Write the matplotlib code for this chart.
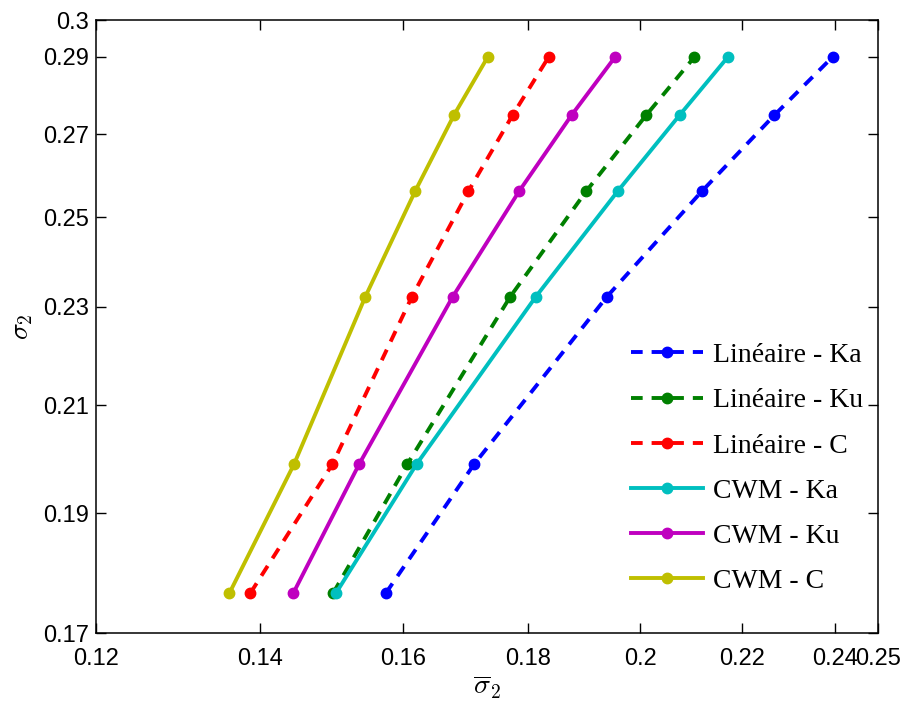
import matplotlib
matplotlib.use("Agg")
import matplotlib.pyplot as plt
from matplotlib.ticker import FixedLocator, FixedFormatter, NullLocator

plt.rcParams['mathtext.fontset'] = 'cm'

# y values shared by all series (log-scaled axis)
sigma2 = [0.1764, 0.1988, 0.2322, 0.2561, 0.2748, 0.2900]

lin_ka = [0.1575, 0.1711, 0.1938, 0.2119, 0.2268, 0.2395]
lin_ku = [0.1499, 0.1607, 0.1770, 0.1901, 0.2011, 0.2104]
lin_c  = [0.1387, 0.1498, 0.1614, 0.1702, 0.1774, 0.1835]
cwm_ka = [0.1503, 0.1621, 0.1813, 0.1958, 0.2075, 0.2171]
cwm_ku = [0.1444, 0.1536, 0.1677, 0.1785, 0.1875, 0.1953]
cwm_c  = [0.1360, 0.1445, 0.1545, 0.1619, 0.1679, 0.1733]

labels = ['Linéaire - Ka', 'Linéaire - Ku', 'Linéaire - C',
          'CWM - Ka', 'CWM - Ku', 'CWM - C']
colors = [(0, 0, 1), (0, 0.5, 0), (1, 0, 0),
          (0, 0.75, 0.75), (0.75, 0, 0.75), (0.75, 0.75, 0)]
styles = ['--', '--', '--', '-', '-', '-']

xticks = [0.12, 0.14, 0.16, 0.18, 0.2, 0.22, 0.24, 0.25]
xticklabels = ['0.12', '0.14', '0.16', '0.18', '0.2', '0.22', '0.24', '0.25']
yticks = [0.17, 0.19, 0.21, 0.23, 0.25, 0.27, 0.29, 0.3]
yticklabels = ['0.17', '0.19', '0.21', '0.23', '0.25', '0.27', '0.29', '0.3']

fig = plt.figure(figsize=(9.06, 7.01), dpi=100)
ax = fig.add_axes([96/906, 1-633/701, (878.3-96)/906, (633-20.4)/701])

series = [lin_ka, lin_ku, lin_c, cwm_ka, cwm_ku, cwm_c]
for xs, lab, col, ls in zip(series, labels, colors, styles):
    line, = ax.plot(xs, sigma2, ls, color=col, lw=2.8, marker='o', ms=7.5,
                    label=lab)
    if ls == '--':
        line.set_dashes((3.0, 2.3))

ax.set_xscale('log')
ax.set_yscale('log')
ax.set_xlim(0.12, 0.25)
ax.set_ylim(0.17, 0.3)
ax.xaxis.set_major_locator(FixedLocator(xticks))
ax.xaxis.set_major_formatter(FixedFormatter(xticklabels))
ax.yaxis.set_major_locator(FixedLocator(yticks))
ax.yaxis.set_major_formatter(FixedFormatter(yticklabels))
ax.xaxis.set_minor_locator(NullLocator())
ax.yaxis.set_minor_locator(NullLocator())
ax.tick_params(which='both', direction='in', top=True, right=True,
               length=7, width=1.0, labelsize=17, pad=5)
ax.tick_params(axis='x', pad=11)
for lbl in ax.get_xticklabels() + ax.get_yticklabels():
    lbl.set_family('Liberation Sans')
for sp in ax.spines.values():
    sp.set_linewidth(1.1)

ax.set_xlabel(r'$\overline{\sigma}_2$', fontsize=20, labelpad=2)
ax.set_ylabel(r'$\sigma_2$', fontsize=20, labelpad=6)

leg = ax.legend(loc='lower left', bbox_to_anchor=(631/906, 1-594/701),
                bbox_transform=fig.transFigure, frameon=False,
                prop={'family': 'Liberation Serif', 'size': 20},
                handlelength=2.6, handletextpad=0.36, labelspacing=0.71,
                borderpad=0, borderaxespad=0)

fig.savefig('out.png', dpi=100)
